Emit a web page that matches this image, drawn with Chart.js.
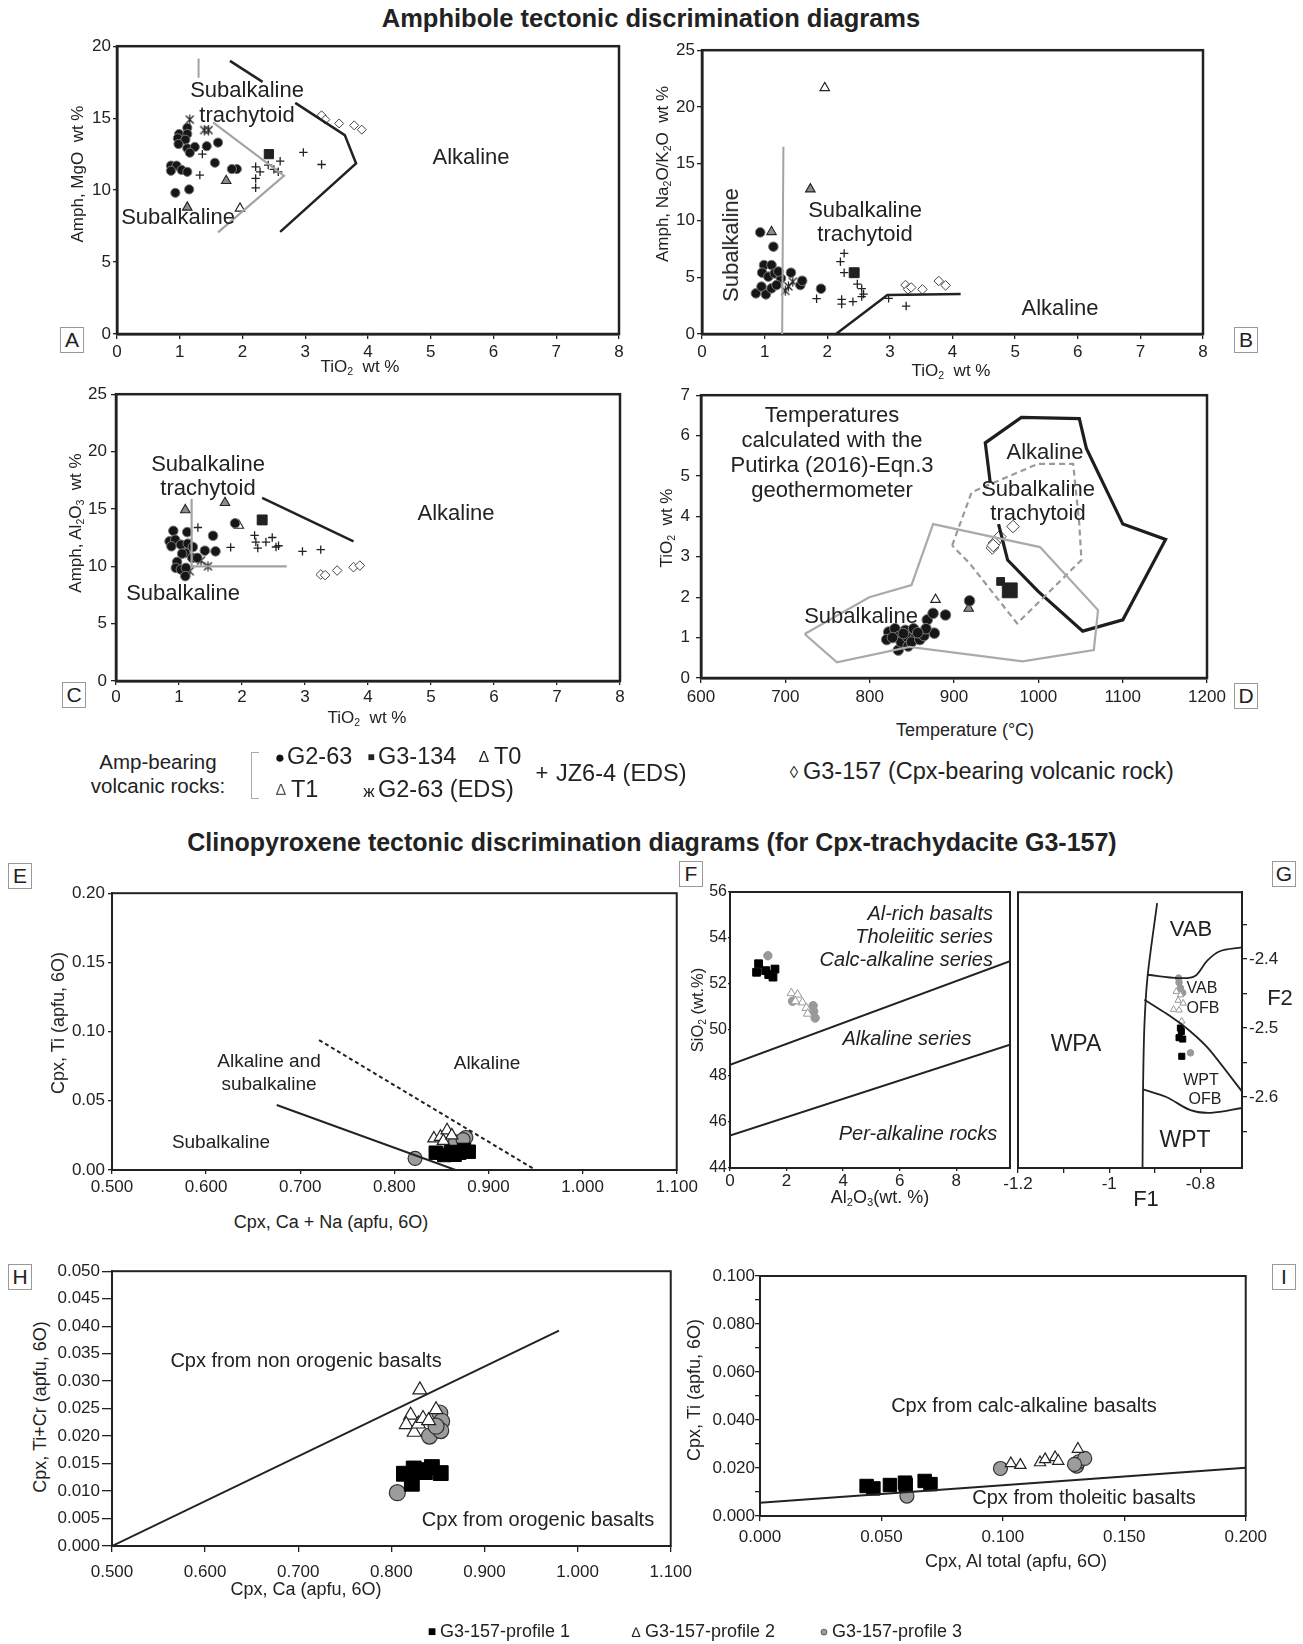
<!DOCTYPE html>
<html>
<head>
<meta charset="utf-8">
<title>Amphibole and clinopyroxene tectonic discrimination diagrams</title>
<script src="https://cdn.jsdelivr.net/npm/chart.js@4.4.1/dist/chart.umd.min.js"></script>
<style>
  html, body { margin: 0; padding: 0; background: #fff; }
  body { width: 1303px; height: 1644px; position: relative; overflow: hidden;
         font-family: "Liberation Sans", Arial, Helvetica, sans-serif; color: #222; }
  canvas.plot { position: absolute; }
  .lb { position: absolute; white-space: nowrap; line-height: 1; transform: translate(-50%, -50%); }
  .lb sub { font-size: 62%; vertical-align: -0.3em; line-height: 0; }
  .box { position: absolute; border: 1px solid #999; background: #fff; font-size: 21px;
         text-align: center; line-height: 24px; width: 22px; height: 24px; }
  .brk { position: absolute; border: 1.5px solid #aaa; border-right: none; }
</style>
</head>
<body>
<script>
// ---------------- Panel A: TiO2 vs MgO (wt %) ----------------
const aG263 = [[1.12,14.33],[0.99,13.9],[1.12,13.9],[0.97,13.6],[1.09,13.5],[0.98,13.2],[1.12,12.9],[1.24,13.0],[1.16,12.6],[1.43,13.05],[1.61,13.3],[1.56,11.9],[1.91,11.46],[1.83,11.46],[0.86,11.7],[0.95,11.7],[0.86,11.34],[1.03,11.4],[1.12,11.27],[0.93,9.81],[1.15,10.05]];
const aG263Eds = [[1.16,14.9],[1.39,14.17],[1.46,14.17]];
const aG3134 = [[2.42,12.5]];
const aT0 = [[1.96,8.73]];
const aT1 = [[1.12,8.8],[1.74,10.65]];
const aJz64 = [[1.36,12.5],[1.32,11.04],[2.21,11.62],[2.28,11.27],[2.21,10.81],[2.21,10.16],[2.41,11.74],[2.60,12.01],[2.50,11.44],[2.57,11.27],[2.97,12.62],[3.26,11.78]];
const aG3157 = [[3.26,15.2],[3.32,14.9],[3.54,14.63],[3.78,14.5],[3.90,14.2]];
const aGrayTop = [[1.30,19.14],[1.30,17.8]];
const aGray = [[1.53,14.7],[2.66,11.0],[1.61,7.06]];
const aBlackTop = [[1.80,18.98],[2.32,17.52]];
const aBlack = [[2.84,16.06],[3.63,13.82],[3.81,11.85],[2.60,7.1]];

// ---------------- Panel B: TiO2 vs Na2O/K2O ----------------
const bG263 = [[0.93,8.95],[1.14,7.69],[0.99,6.07],[1.11,6.07],[0.96,5.4],[1.06,5.05],[1.16,5.34],[1.26,4.9],[1.42,5.4],[1.57,4.31],[1.60,4.69],[1.90,3.99],[0.86,3.58],[0.95,4.17],[1.02,3.49],[1.11,4.02],[1.19,4.31],[1.22,5.5]];
const bG263Eds = [[1.33,3.8],[1.45,4.6],[1.38,4.2]];
const bG3134 = [[2.43,5.4]];
const bT0 = [[1.96,21.68]];
const bT1 = [[1.11,9.0],[1.73,12.76]];
const bJz64 = [[2.27,7.1],[2.21,6.37],[2.27,5.4],[2.48,4.4],[2.55,4.0],[2.58,3.52],[2.55,3.29],[2.23,3.05],[2.23,2.64],[2.41,2.85],[1.83,3.11],[2.98,3.14],[3.26,2.46]];
const bG3157 = [[3.25,4.31],[3.29,3.93],[3.34,4.1],[3.52,3.93],[3.78,4.67],[3.89,4.28]];
const bGray = [[1.30,16.49],[1.28,0]];
const bBlack = [[2.14,0],[2.96,3.43],[4.13,3.52]];

// ---------------- Panel C: TiO2 vs Al2O3 ----------------
const cG263 = [[0.91,13.09],[1.13,12.98],[0.85,12.17],[0.94,12.31],[0.88,11.74],[1.03,11.88],[1.14,11.97],[1.22,11.68],[1.10,11.16],[1.21,10.73],[1.29,10.73],[1.41,11.36],[1.58,11.30],[1.54,12.66],[1.89,13.75],[0.97,10.38],[0.95,9.86],[1.03,9.72],[1.11,9.86],[1.10,9.14],[1.05,11.1]];
const cG263Eds = [[1.35,10.5],[1.46,10.0],[1.17,9.57]];
const cG3134 = [[2.32,14.04]];
const cT0 = [[1.95,13.55]];
const cT1 = [[1.10,14.91],[1.73,15.54]];
const cJz64 = [[1.30,13.38],[1.82,11.65],[2.20,12.69],[2.22,12.11],[2.25,11.59],[2.38,12.11],[2.48,12.51],[2.54,11.68],[2.58,11.79],[2.96,11.30],[3.25,11.45]];
const cG3157 = [[3.25,9.28],[3.32,9.23],[3.51,9.63],[3.77,9.92],[3.87,10.06]];
const cGray = [[1.20,15.86],[1.20,10.0],[2.71,10.0]];
const cBlack = [[2.32,15.97],[3.77,12.17]];

// ---------------- Panel D: temperature (°C) vs TiO2 ----------------
const dG263 = [[822.6,1.14],[820.2,0.95],[830,1.22],[833.9,0.69],[834.9,1.03],[837.3,0.89],[842.3,1.18],[844.7,1.01],[845.7,0.79],[852.1,1.22],[854.5,1.01],[849.6,0.89],[859.5,0.95],[864.4,1.05],[868.3,1.44],[875.2,1.60],[876.7,1.11],[889.9,1.56],[866.8,1.22],[918.4,1.91],[827,1.0],[840,1.1],[857,1.12]];
const dG3134 = [[955.3,2.39],[966.1,2.17]];
const dT0 = [[878.1,1.94]];
const dT1 = [[917.4,1.72]];
const dG3157 = [[970,3.75],[954.3,3.50],[947.9,3.34],[945.5,3.22],[946.5,3.28]];
const dSubalkaline = [[722.9,1.09],[799.5,2.00],[849.6,2.30],[875.2,3.81],[1002,3.24],[1070.8,1.68],[1065.8,0.69],[981.3,0.41],[847.2,0.77],[761.2,0.39],[722.9,1.09]];
const dTrachytoid = [[897.8,3.28],[920.9,4.60],[999.5,5.30],[1041.3,5.30],[1048.6,3.81],[1051.1,2.92],[974.9,1.35],[918.4,2.84],[897.8,3.28]];
const dAlkaline = [[952.8,3.81],[963.6,2.92],[999.5,2.15],[1052.6,1.16],[1100.2,1.44],[1150.9,3.43],[1100.2,3.81],[1057,5.68],[1048.6,6.42],[979.9,6.45],[937.1,5.82],[943,4.83]];

// ---------------- Panel E: Ca+Na vs Ti (apfu) ----------------
const eP1 = [[0.844,0.0125],[0.853,0.0108],[0.860,0.0130],[0.869,0.0125],[0.879,0.0132],[0.864,0.0110],[0.874,0.0145]];
const eP2 = [[0.842,0.0228],[0.849,0.0240],[0.856,0.0287],[0.852,0.0210],[0.861,0.0250]];
const eP3 = [[0.822,0.0084],[0.865,0.0204],[0.876,0.0235],[0.873,0.0220]];
const eSolid = [[0.675,0.047],[0.865,0.0]];
const eDashed = [[0.720,0.0939],[0.950,0.0]];

// ---------------- Panel F: Al2O3 vs SiO2 (wt %) ----------------
const fP1 = [[1.01,52.88],[0.94,52.51],[1.26,52.58],[1.37,52.41],[1.52,52.30],[1.59,52.65]];
const fP2 = [[2.17,51.6],[2.39,51.54],[2.56,51.2],[2.70,50.96],[2.75,50.71],[2.31,51.25]];
const fP3 = [[1.34,53.23],[2.21,51.25],[2.94,51.06],[2.96,50.81],[3.01,50.52],[2.90,50.9]];
const fUpper = [[0,48.49],[9.9,52.99]];
const fLower = [[0,45.41],[9.9,49.36]];

// ---------------- Panel G: F1 vs F2 ----------------
const gP1 = [[-0.844,-2.500],[-0.847,-2.514],[-0.839,-2.516],[-0.841,-2.541],[-0.842,-2.505]];
const gP2 = [[-0.853,-2.447],[-0.844,-2.452],[-0.838,-2.464],[-0.859,-2.473],[-0.847,-2.474],[-0.841,-2.490],[-0.849,-2.460]];
const gP3 = [[-0.848,-2.4275],[-0.847,-2.434],[-0.844,-2.442],[-0.839,-2.449],[-0.822,-2.536]];
const gWpaBorder = [[-0.895,-2.319],[-0.916,-2.425],[-0.923,-2.498],[-0.926,-2.594],[-0.927,-2.703]];
const gVabBorder = [[-0.916,-2.4227],[-0.848,-2.4275],[-0.813,-2.425],[-0.786,-2.403],[-0.759,-2.389],[-0.709,-2.383]];
const gOfbBorder = [[-0.923,-2.459],[-0.866,-2.483],[-0.822,-2.505],[-0.781,-2.531],[-0.709,-2.592]];
const gWptBorder = [[-0.926,-2.589],[-0.875,-2.600],[-0.822,-2.619],[-0.777,-2.623],[-0.709,-2.616]];

// ---------------- Panel H: Ca vs Ti+Cr (apfu) ----------------
const hP1 = [[0.8135,0.01315],[0.824,0.0141],[0.822,0.01133],[0.8435,0.01436],[0.836,0.01345],[0.853,0.01327],[0.829,0.0138]];
const hP2 = [[0.8306,0.0284],[0.8207,0.0238],[0.816,0.0221],[0.8245,0.0207],[0.829,0.0222],[0.834,0.0232],[0.840,0.0228],[0.848,0.0248]];
const hP3 = [[0.8064,0.0097],[0.841,0.0200],[0.852,0.0242],[0.854,0.0227],[0.853,0.0210],[0.848,0.0218]];
const hBorder = [[0.5,0],[0.98,0.0392]];

// ---------------- Panel I: Al total vs Ti (apfu) ----------------
const iP1 = [[0.0439,0.0125],[0.0467,0.0115],[0.0535,0.0129],[0.0597,0.0139],[0.0600,0.0130],[0.0678,0.0146],[0.0702,0.0133]];
const iP2 = [[0.1033,0.0219],[0.1072,0.0212],[0.1153,0.0223],[0.1174,0.0236],[0.1215,0.0244],[0.1228,0.0229],[0.1309,0.0279]];
const iP3 = [[0.0605,0.0083],[0.099,0.0198],[0.1304,0.0208],[0.1312,0.0226],[0.1337,0.0240],[0.1295,0.0215]];
const iBorder = [[0,0.00555],[0.2,0.0201]];

// ---------------- Tick values ----------------
const ticksTiO2 = [0,1,2,3,4,5,6,7,8];
const ticksMgO = [0,5,10,15,20];
const ticks25 = [0,5,10,15,20,25];
const ticksTemp = [600,700,800,900,1000,1100,1200];
const ticksTiD = [0,1,2,3,4,5,6,7];
const ticksCa = [0.5,0.6,0.7,0.8,0.9,1.0,1.1];
const ticksTiE = [0,0.05,0.10,0.15,0.20];
const ticksAl = [0,2,4,6,8];
const ticksSi = [44,46,48,50,52,54,56];
const ticksF1 = [-1.2,-1.1,-1.0,-0.9,-0.8];
const ticksF2 = [-2.65,-2.6,-2.55,-2.5,-2.45,-2.4,-2.35];
const ticksTiCr = [0,0.005,0.010,0.015,0.020,0.025,0.030,0.035,0.040,0.045,0.050];
const ticksAlTot = [0,0.05,0.10,0.15,0.20];
const ticksTiI = [0,0.01,0.02,0.03,0.04,0.05,0.06,0.07,0.08,0.09,0.10];

// ---------------- helpers ----------------
const FONT = '"Liberation Sans", Arial, Helvetica, sans-serif';
Chart.defaults.font.family = FONT;
Chart.defaults.color = '#222';

const pts = a => a.map(p => ({ x: p[0], y: p[1] }));

function starMark(size) {
  const c = document.createElement('canvas');
  c.width = c.height = size;
  const g = c.getContext('2d');
  g.strokeStyle = '#222'; g.lineWidth = 1.2;
  const h = size / 2;
  g.beginPath();
  g.moveTo(h, 0.5); g.lineTo(h, size - 0.5);
  g.moveTo(1.5, 1.5); g.lineTo(size - 1.5, size - 1.5);
  g.moveTo(size - 1.5, 1.5); g.lineTo(1.5, size - 1.5);
  g.stroke();
  return c;
}
const STAR = starMark(11);

const ST = {
  g263:  { pointStyle: 'circle', backgroundColor: '#161616', borderColor: '#7a7a7a', borderWidth: 1 },
  g3134: { pointStyle: 'rect', backgroundColor: '#222', borderColor: '#222', borderWidth: 1 },
  t0:    { pointStyle: 'triangle', backgroundColor: '#fff', borderColor: '#222', borderWidth: 1.1 },
  t1:    { pointStyle: 'triangle', backgroundColor: '#8c8c8c', borderColor: '#222', borderWidth: 1.1 },
  eds:   { pointStyle: STAR, backgroundColor: '#222', borderColor: '#222', borderWidth: 1 },
  jz:    { pointStyle: 'cross', backgroundColor: '#222', borderColor: '#222', borderWidth: 1.3 },
  g3157: { pointStyle: 'rectRot', backgroundColor: '#fff', borderColor: '#444', borderWidth: 1 },
  p1:    { pointStyle: 'rect', backgroundColor: '#000', borderColor: '#000', borderWidth: 1 },
  p2:    { pointStyle: 'triangle', backgroundColor: '#fff', borderColor: '#222', borderWidth: 1.2 },
  p3:    { pointStyle: 'circle', backgroundColor: '#9c9c9c', borderColor: '#333', borderWidth: 1.2 },
  p2s:   { pointStyle: 'triangle', backgroundColor: '#fff', borderColor: '#999', borderWidth: 1 },
  p3s:   { pointStyle: 'circle', backgroundColor: '#999', borderColor: '#999', borderWidth: 1 }
};

function ser(a, style, r) {
  return Object.assign({ data: pts(a), pointRadius: r, showLine: false }, style);
}
function ln(a, color, w, extra) {
  return Object.assign({ data: pts(a), showLine: true, borderColor: color, borderWidth: w,
    pointRadius: 0, tension: 0, fill: false }, extra || {});
}

const framePlugin = {
  id: 'frame',
  beforeDatasetsDraw(chart, args, opts) {
    const { left, top, right, bottom } = chart.chartArea;
    const ctx = chart.ctx;
    ctx.save();
    ctx.strokeStyle = '#222';
    ctx.lineWidth = opts.width || 2;
    ctx.strokeRect(left, top, right - left, bottom - top);
    ctx.restore();
  }
};

function axis(o, isX, size) {
  return {
    type: 'linear',
    position: o.pos || (isX ? 'bottom' : 'left'),
    min: o.min, max: o.max, bounds: 'data',
    afterBuildTicks: s => { s.ticks = o.ticks.map(v => ({ value: v })); },
    afterFit: s => { if (isX) s.height = size; else s.width = size; },
    ticks: {
      autoSkip: false, maxRotation: 0, minRotation: 0,
      padding: o.pad, color: '#222',
      font: { family: FONT, size: o.fs || 17 },
      callback: v => o.fmt(v)
    },
    grid: { drawOnChartArea: false, drawTicks: true, tickLength: o.tl, color: '#222', lineWidth: 1.3 },
    border: { display: true, color: '#222', width: o.bw }
  };
}

function plot(rect, m, xa, ya, datasets, frameW) {
  const W = rect.r - rect.l + m.l + m.r, H = rect.b - rect.t + m.t + m.b;
  const cv = document.createElement('canvas');
  cv.className = 'plot';
  cv.width = W; cv.height = H;
  Object.assign(cv.style, { left: (rect.l - m.l) + 'px', top: (rect.t - m.t) + 'px', width: W + 'px', height: H + 'px' });
  document.body.appendChild(cv);
  const yRight = ya.pos === 'right';
  return new Chart(cv, {
    type: 'scatter',
    data: { datasets },
    options: {
      responsive: false, maintainAspectRatio: false, animation: false, devicePixelRatio: 1, events: [],
      layout: { autoPadding: false, padding: { left: yRight ? m.l : 0, right: yRight ? 0 : m.r, top: m.t, bottom: 0 } },
      plugins: { legend: { display: false }, tooltip: { enabled: false }, frame: { width: frameW } },
      scales: { x: axis(xa, true, m.b), y: axis(ya, false, yRight ? m.r : m.l) }
    },
    plugins: [framePlugin]
  });
}

function label(x, y, html, size, extra) {
  const d = document.createElement('div');
  d.className = 'lb';
  d.innerHTML = html;
  d.style.left = x + 'px';
  d.style.top = y + 'px';
  d.style.fontSize = size + 'px';
  if (extra) Object.assign(d.style, extra);
  document.body.appendChild(d);
  return d;
}
const ROT = { transform: 'translate(-50%, -50%) rotate(-90deg)' };
const RIGHT = { transform: 'translate(-100%, -50%)' };
const LEFT = { transform: 'translate(0, -50%)' };
const BOLD = { fontWeight: 'bold' };
const ITAL = { fontStyle: 'italic' };

function box(cx, cy, letter) {
  const d = document.createElement('div');
  d.className = 'box';
  d.textContent = letter;
  d.style.left = (cx - 12) + 'px';
  d.style.top = (cy - 13) + 'px';
  document.body.appendChild(d);
}

const int = v => String(v);
const fix = n => v => v.toFixed(n);
const MARG = { l: 62, r: 24, t: 12, b: 40 };

// ---------------- Amphibole panels ----------------
plot({ l: 117, t: 46, r: 619, b: 334 }, MARG,
  { min: 0, max: 8, ticks: ticksTiO2, fmt: int, tl: 5, pad: 3, bw: 2.5 },
  { min: 0, max: 20, ticks: ticksMgO, fmt: int, tl: 4, pad: 2, bw: 2.5 },
  [ ln(aGrayTop, '#a3a3a3', 2), ln(aGray, '#a3a3a3', 2.2), ln(aBlackTop, '#222', 2.5), ln(aBlack, '#222', 2.5),
    ser(aG3157, ST.g3157, 4.5), ser(aJz64, ST.jz, 4.2), ser(aG263, ST.g263, 4.6), ser(aG263Eds, ST.eds, 5),
    ser(aT1, ST.t1, 5.5), ser(aT0, ST.t0, 5.5), ser(aG3134, ST.g3134, 6.5) ], 2.5);

plot({ l: 702, t: 50, r: 1203, b: 334 }, MARG,
  { min: 0, max: 8, ticks: ticksTiO2, fmt: int, tl: 5, pad: 3, bw: 2.5 },
  { min: 0, max: 25, ticks: ticks25, fmt: int, tl: 5, pad: 2, bw: 2.5 },
  [ ln(bGray, '#a3a3a3', 2), ln(bBlack, '#222', 2.5),
    ser(bG3157, ST.g3157, 4.8), ser(bJz64, ST.jz, 4.2), ser(bG263, ST.g263, 4.8), ser(bG263Eds, ST.eds, 5),
    ser(bT1, ST.t1, 5.5), ser(bT0, ST.t0, 5.5), ser(bG3134, ST.g3134, 7) ], 2.5);

plot({ l: 116, t: 392, r: 620, b: 681 }, MARG,
  { min: 0, max: 8, ticks: ticksTiO2, fmt: int, tl: 4, pad: 2, bw: 2.5 },
  { min: 0, max: 25, ticks: ticks25, fmt: int, tl: 5, pad: 4, bw: 2.5 },
  [ ln(cGray, '#a3a3a3', 2.2), ln(cBlack, '#222', 2.5),
    ser(cG3157, ST.g3157, 4.8), ser(cJz64, ST.jz, 4.2), ser(cG263, ST.g263, 4.8), ser(cG263Eds, ST.eds, 5),
    ser(cT1, ST.t1, 5.5), ser(cT0, ST.t0, 5.5), ser(cG3134, ST.g3134, 7) ], 2.5);

plot({ l: 701, t: 391, r: 1207, b: 678 }, MARG,
  { min: 600, max: 1200, ticks: ticksTemp, fmt: int, tl: 5, pad: 4, bw: 2.5 },
  { min: 0, max: 7, ticks: ticksTiD, fmt: int, tl: 5, pad: 6, bw: 2.5 },
  [ ln(dSubalkaline, '#aaaaaa', 2.2), ln(dTrachytoid, '#9a9a9a', 2.2, { borderDash: [6, 4] }), ln(dAlkaline, '#1e1e1e', 3.2),
    ser(dG263, ST.g263, 5.3), ser(dT1, ST.t1, 5.5), ser(dT0, ST.t0, 5.5),
    Object.assign(ser(dG3134, ST.g3134, 0), { pointRadius: [5.5, 10.5] }), ser(dG3157, ST.g3157, 6.3) ], 2.5);

// ---------------- Clinopyroxene panels ----------------
plot({ l: 112, t: 892, r: 677, b: 1170 }, MARG,
  { min: 0.5, max: 1.1, ticks: ticksCa, fmt: fix(3), tl: 4, pad: 3, bw: 2 },
  { min: 0, max: 0.2, ticks: ticksTiE, fmt: fix(2), tl: 4, pad: 3, bw: 2 },
  [ ln(eSolid, '#222', 2), ln(eDashed, '#222', 2, { borderDash: [4, 3] }),
    ser(eP1, ST.p1, 9.5), ser(eP2, ST.p2, 7), ser(eP3, ST.p3, 7) ], 2);

plot({ l: 730, t: 892, r: 1010, b: 1168 }, { l: 30, r: 8, t: 12, b: 30 },
  { min: 0, max: 9.9, ticks: ticksAl, fmt: int, tl: 3, pad: 0, bw: 2 },
  { min: 44, max: 56, ticks: ticksSi, fmt: int, tl: 2, pad: 1, bw: 2, fs: 16 },
  [ ln(fUpper, '#222', 2), ln(fLower, '#222', 2),
    ser(fP2, ST.p2s, 5), ser(fP3, ST.p3s, 4.2), ser(fP1, ST.p1, 5.5) ], 2);

plot({ l: 1018, t: 892, r: 1242, b: 1168 }, { l: 22, r: 60, t: 12, b: 30 },
  { min: -1.2, max: -0.709, ticks: ticksF1,
    fmt: v => (Math.abs(v + 1.2) < 1e-6 ? '-1.2' : Math.abs(v + 1) < 1e-6 ? '-1' : Math.abs(v + 0.8) < 1e-6 ? '-0.8' : ''),
    tl: 5, pad: 1, bw: 2 },
  { pos: 'right', min: -2.703, max: -2.303, ticks: ticksF2,
    fmt: v => (Math.abs(v + 2.4) < 1e-6 ? '-2.4' : Math.abs(v + 2.5) < 1e-6 ? '-2.5' : Math.abs(v + 2.6) < 1e-6 ? '-2.6' : ''),
    tl: 5, pad: 2, bw: 2 },
  [ ln(gWpaBorder, '#222', 1.8, { tension: 0.3 }), ln(gVabBorder, '#222', 1.8, { tension: 0.35 }),
    ln(gOfbBorder, '#222', 1.8, { tension: 0.2 }), ln(gWptBorder, '#222', 1.8, { tension: 0.35 }),
    ser(gP2, ST.p2s, 3.8), ser(gP3, ST.p3s, 3.3), ser(gP1, ST.p1, 4.3) ], 2);

plot({ l: 112, t: 1271, r: 678, b: 1546 }, MARG,
  { min: 0.5, max: 1.1, ticks: ticksCa, fmt: fix(3), tl: 6, pad: 10, bw: 2 },
  { min: 0, max: 0.05, ticks: ticksTiCr, fmt: fix(3), tl: 10, pad: 2, bw: 2 },
  [ ln(hBorder, '#222', 2),
    ser(hP1, ST.p1, 10.5), ser(hP2, ST.p2, 8), ser(hP3, ST.p3, 8) ], 2);

plot({ l: 760, t: 1276, r: 1249, b: 1516 }, MARG,
  { min: 0, max: 0.2, ticks: ticksAlTot, fmt: fix(3), tl: 5, pad: 6, bw: 2 },
  { min: 0, max: 0.1, ticks: ticksTiI,
    fmt: v => (Math.abs(Math.round(v * 50) - v * 50) < 1e-6 ? v.toFixed(3) : ''), tl: 5, pad: 0, bw: 2 },
  [ ln(iBorder, '#222', 2),
    ser(iP1, ST.p1, 9.5), ser(iP2, ST.p2, 6.5), ser(iP3, ST.p3, 7) ], 2);

// ---------------- Titles ----------------
label(651, 19, 'Amphibole tectonic discrimination diagrams', 25.5, BOLD);
label(652, 842, 'Clinopyroxene tectonic discrimination diagrams (for Cpx-trachydacite G3-157)', 25, BOLD);

// ---------------- Panel letters ----------------
box(72, 340, 'A'); box(1246, 340, 'B'); box(74, 695, 'C'); box(1246, 696, 'D');
box(20, 876, 'E'); box(691, 874, 'F'); box(1284, 874, 'G'); box(20, 1277, 'H'); box(1284, 1277, 'I');

// ---------------- Axis titles ----------------
label(360, 366, 'TiO<sub>2</sub>&nbsp; wt %', 17);
label(77, 174, 'Amph, MgO&nbsp; wt %', 17, ROT);
label(951, 370, 'TiO<sub>2</sub>&nbsp; wt %', 17);
label(662, 174, 'Amph, Na<sub>2</sub>O/K<sub>2</sub>O&nbsp; wt %', 17, ROT);
label(367, 717, 'TiO<sub>2</sub>&nbsp; wt %', 17);
label(75, 523, 'Amph, Al<sub>2</sub>O<sub>3</sub>&nbsp; wt %', 17, ROT);
label(965, 730, 'Temperature (°C)', 18);
label(666, 528, 'TiO<sub>2</sub>&nbsp; wt %', 17, ROT);

label(331, 1222, 'Cpx, Ca + Na (apfu, 6O)', 18);
label(58, 1023, 'Cpx, Ti (apfu, 6O)', 18, ROT);
label(880, 1197, 'Al<sub>2</sub>O<sub>3</sub>(wt. %)', 18);
label(697, 1010, 'SiO<sub>2</sub> (wt.%)', 16.5, ROT);
label(1146, 1199, 'F1', 22);
label(1280, 998, 'F2', 22);
label(306, 1589, 'Cpx, Ca (apfu, 6O)', 18);
label(40, 1407, 'Cpx, Ti+Cr (apfu, 6O)', 18, ROT);
label(1016, 1561, 'Cpx, Al total (apfu, 6O)', 18);
label(694, 1390, 'Cpx, Ti (apfu, 6O)', 18, ROT);

// ---------------- Field names ----------------
label(247, 90, 'Subalkaline', 22); label(247, 115, 'trachytoid', 22);
label(471, 157, 'Alkaline', 22); label(178, 217, 'Subalkaline', 22);

label(731, 245, 'Subalkaline', 22, ROT);
label(865, 210, 'Subalkaline', 22); label(865, 234, 'trachytoid', 22);
label(1060, 308, 'Alkaline', 22);

label(208, 464, 'Subalkaline', 22); label(208, 488, 'trachytoid', 22);
label(456, 513, 'Alkaline', 22); label(183, 593, 'Subalkaline', 22);

label(832, 415, 'Temperatures', 22); label(832, 440, 'calculated with the', 22);
label(832, 465, 'Putirka (2016)-Eqn.3', 22); label(832, 490, 'geothermometer', 22);
label(1045, 452, 'Alkaline', 22); label(1038, 489, 'Subalkaline', 22); label(1038, 513, 'trachytoid', 22);
label(861, 616, 'Subalkaline', 22);

label(269, 1060, 'Alkaline and', 19); label(269, 1083, 'subalkaline', 19);
label(487, 1062, 'Alkaline', 19); label(221, 1141, 'Subalkaline', 19);

label(993, 913, 'Al-rich basalts', 20, Object.assign({}, ITAL, RIGHT));
label(993, 936, 'Tholeiitic series', 20, Object.assign({}, ITAL, RIGHT));
label(993, 959, 'Calc-alkaline series', 20, Object.assign({}, ITAL, RIGHT));
label(907, 1038, 'Alkaline series', 20, ITAL);
label(918, 1133, 'Per-alkaline rocks', 20, ITAL);

label(1191, 929, 'VAB', 22); label(1202, 988, 'VAB', 16); label(1203, 1008, 'OFB', 16);
label(1076, 1043, 'WPA', 23); label(1201, 1080, 'WPT', 16); label(1205, 1099, 'OFB', 16);
label(1185, 1139, 'WPT', 23);

label(306, 1360, 'Cpx from non orogenic basalts', 20);
label(538, 1519, 'Cpx from orogenic basalts', 20);
label(1024, 1405, 'Cpx from calc-alkaline basalts', 20);
label(1084, 1497, 'Cpx from tholeitic basalts', 20);

// ---------------- Legends ----------------
label(158, 762, 'Amp-bearing', 20.5);
label(158, 786, 'volcanic rocks:', 20.5);
const brk = document.createElement('div');
brk.className = 'brk';
Object.assign(brk.style, { left: '251px', top: '752px', width: '7px', height: '45px' });
document.body.appendChild(brk);

label(280, 757, '●', 17, { color: '#111' });
label(287, 757, 'G2-63', 23.5, LEFT);
label(371, 757, '■', 12);
label(378, 757, 'G3-134', 23.5, LEFT);
label(484, 757, '∆', 16);
label(494, 757, 'T0', 23.5, LEFT);
label(281, 790, '∆', 16, { color: '#555' });
label(291, 790, 'T1', 23.5, LEFT);
label(369, 791, 'ж', 17);
label(378, 790, 'G2-63 (EDS)', 23.5, LEFT);
label(542, 773, '+', 22);
label(556, 774, 'JZ6-4 (EDS)', 23.5, LEFT);
label(794, 772, '◊', 17);
label(803, 772, 'G3-157 (Cpx-bearing volcanic rock)', 23.5, LEFT);

label(432, 1631, '■', 14, { color: '#000' });
label(440, 1631, 'G3-157-profile 1', 18, LEFT);
label(636, 1632, '∆', 14);
label(645, 1631, 'G3-157-profile 2', 18, LEFT);
label(824, 1631, '●', 14, { color: '#999', WebkitTextStroke: '0.6px #333' });
label(832, 1631, 'G3-157-profile 3', 18, LEFT);
</script>
</body>
</html>
